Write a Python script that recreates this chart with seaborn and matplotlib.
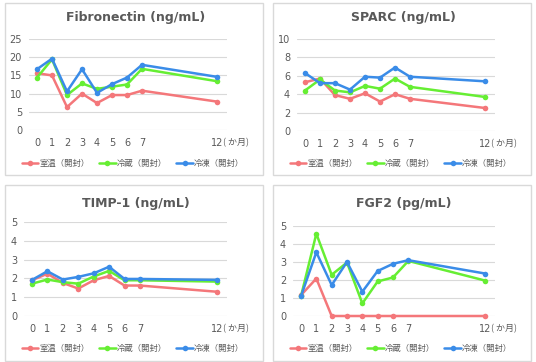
import numpy as np
import pandas as pd
import matplotlib
matplotlib.use("Agg")
import matplotlib.pyplot as plt
from matplotlib.patches import Rectangle
import seaborn as sns

# Datos
months = [0, 1, 2, 3, 4, 5, 6, 7, 12]
conditions = ["室温（開封）", "冷蔵（開封）", "冷凍（開封）"]

fibronectin_room = [15.6, 15.0, 6.3, 10.0, 7.4, 9.6, 9.6, 10.8, 7.8]
fibronectin_fridge = [14.4, 19.4, 9.6, 12.8, 11.3, 11.9, 12.5, 16.8, 13.4]
fibronectin_freezer = [16.7, 19.6, 10.6, 16.7, 10.2, 12.6, 14.4, 17.9, 14.6]

sparc_room = [5.3, 5.7, 3.9, 3.5, 4.1, 3.2, 4.0, 3.5, 2.5]
sparc_fridge = [4.4, 5.6, 4.4, 4.2, 4.9, 4.6, 5.7, 4.8, 3.7]
sparc_freezer = [6.3, 5.2, 5.2, 4.5, 5.9, 5.8, 6.9, 5.9, 5.4]

timp1_room = [1.9, 2.25, 1.76, 1.46, 1.9, 2.13, 1.62, 1.62, 1.29]
timp1_fridge = [1.72, 1.94, 1.8, 1.72, 2.1, 2.4, 1.9, 1.9, 1.83]
timp1_freezer = [1.92, 2.38, 1.94, 2.08, 2.27, 2.62, 1.97, 1.97, 1.92]

fgf2_room = [1.16, 2.08, 0, 0, 0, 0, 0, None, 0]
fgf2_fridge = [1.1, 4.57, 2.29, 2.97, 0.7, 1.92, 2.14, 3.06, 1.97]
fgf2_freezer = [1.1, 3.54, 1.72, 3.0, 1.35, 2.5, 2.9, 3.1, 2.36]

colors = ["#F4777A", "#66EE33", "#3A8CE8"]
gray = "#595959"

W, H = 536, 362


def px_rect(x0, y0, x1, y1):
    """convierte pixeles (arriba-izquierda) a fraccion de figura"""
    return [x0 / W, 1 - y1 / H, (x1 - x0) / W, (y1 - y0) / H]


def make_df(room, fridge, freezer):
    rows = []
    for cond, vals in zip(conditions, [room, fridge, freezer]):
        for m, v in zip(months, vals):
            if v is not None:
                rows.append({"month": m, "value": v, "cond": cond})
    return pd.DataFrame(rows)


sns.set_theme(style="white")
plt.rcParams["font.family"] = ["DejaVu Sans", "Noto Sans CJK JP"]

fig = plt.figure(figsize=(W / 100, H / 100), dpi=100)

panels = [
    # titulo, datos, ylim, ticks, caja, ejes(px), titulo y, ticks y, leyenda y
    ("Fibronectin (ng/mL)", make_df(fibronectin_room, fibronectin_fridge, fibronectin_freezer),
     25, [0, 5, 10, 15, 20, 25], (5, 3, 263, 175), (29, 39, 227, 130), 18, 143, 163),
    ("SPARC (ng/mL)", make_df(sparc_room, sparc_fridge, sparc_freezer),
     10, [0, 2, 4, 6, 8, 10], (273, 3, 531, 175), (297, 39, 495, 131), 18, 144, 163),
    ("TIMP-1 (ng/mL)", make_df(timp1_room, timp1_fridge, timp1_freezer),
     5, [0, 1, 2, 3, 4, 5], (5, 185, 263, 361), (24, 222, 227, 316), 204, 329, 348),
    ("FGF2 (pg/mL)", make_df(fgf2_room, fgf2_fridge, fgf2_freezer),
     5, [0, 1, 2, 3, 4, 5], (273, 185, 531, 361), (293, 226, 495, 316), 204, 329, 348),
]

for title, df, ymax, yticks, box, axpx, ty, xty, ly in panels:
    # marco gris del panel
    fig.patches.append(Rectangle((box[0] / W, 1 - box[3] / H), (box[2] - box[0]) / W,
                                 (box[3] - box[1]) / H, transform=fig.transFigure,
                                 fill=False, edgecolor="#D9D9D9", linewidth=1))

    ax = fig.add_axes(px_rect(*axpx))
    x0px, x1px = axpx[0], axpx[2]
    # el 0 queda ~8px dentro del eje, el 12 ~10px antes del borde
    unit = (x1px - x0px - 18) / 12
    ax.set_xlim(-8 / unit, 12 + 10 / unit)
    ax.set_ylim(0, ymax)

    sns.lineplot(data=df, x="month", y="value", hue="cond", hue_order=conditions,
                 palette=colors, marker="o", markersize=4, markeredgewidth=0,
                 linewidth=1.8, ax=ax, legend=True, clip_on=False)

    ax.set_yticks(yticks)
    ax.set_yticklabels([str(t) for t in yticks], fontsize=7, color=gray)
    ax.yaxis.grid(True, color="#D9D9D9", linewidth=0.8)
    ax.set_axisbelow(True)
    ax.tick_params(axis="y", length=0, pad=5)
    for s in ax.spines.values():
        s.set_visible(False)
    ax.set_xticks([])
    ax.set_xlabel("")
    ax.set_ylabel("")

    # etiquetas del eje x
    ytext = 1 - (xty - axpx[1]) / (axpx[3] - axpx[1])
    trans = ax.get_xaxis_transform()
    for m in months:
        ax.text(m, ytext, str(m), transform=trans, ha="center", va="center",
                fontsize=7, color=gray)
    ax.text(12.4, ytext, "( か月)", transform=trans, ha="left", va="center",
            fontsize=6.5, color=gray, family=["Noto Sans CJK JP", "DejaVu Sans"])

    # titulo
    fig.text((box[0] + box[2]) / 2 / W + 0.003, 1 - ty / H, title, ha="center", va="center",
             fontsize=9, fontweight="bold", color=gray)

    # leyenda
    handles, labels = ax.get_legend_handles_labels()
    ax.get_legend().remove()
    lx = ((box[0] + box[2]) / 2 - 1) / W
    leg = fig.legend(handles, labels, loc="center", bbox_to_anchor=(lx, 1 - ly / H),
                     ncol=3, frameon=False, handlelength=2.0, handletextpad=0.15,
                     columnspacing=1.1, prop={"family": "Noto Sans CJK JP", "size": 6})
    for t in leg.get_texts():
        t.set_color(gray)

fig.savefig("out.png", dpi=100)
